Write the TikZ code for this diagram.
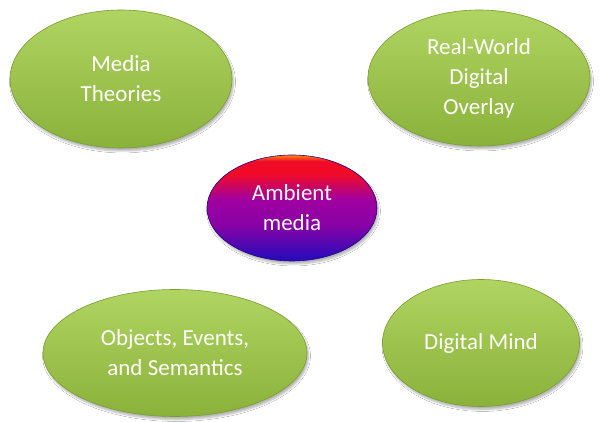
\documentclass[tikz,border=0pt]{standalone}
\usepackage{fontspec}
\setmainfont{Carlito}
\usetikzlibrary{shapes.geometric,shadows.blur}

\definecolor{leafTop}{RGB}{176,212,98}
\definecolor{leafBot}{RGB}{138,178,58}
\definecolor{leafRim}{RGB}{120,158,48}
\definecolor{hubOrange}{RGB}{255,130,20}
\definecolor{hubRed}{RGB}{240,10,40}
\definecolor{hubPurple}{RGB}{160,0,160}
\definecolor{hubBlue}{RGB}{45,10,185}

% red to blue body for the middle ellipse
\pgfdeclareverticalshading{hubshade}{100bp}{color(0bp)=(hubBlue); color(27bp)=(hubBlue);
  color(42bp)=(hubPurple!80!hubBlue); color(54bp)=(hubPurple); color(66bp)=(hubRed);
  color(72bp)=(hubRed); color(75bp)=(hubOrange); color(100bp)=(hubOrange)}

\begin{document}
\begin{tikzpicture}[x=1pt, y=1pt,
  every node/.style={font=\fontsize{23}{30}\selectfont, text=white, align=center},
  topic/.style={ellipse, inner sep=0pt, draw=leafRim, line width=0.6pt,
    top color=leafTop, bottom color=leafBot,
    blur shadow={shadow xshift=1.5pt, shadow yshift=-3pt, shadow blur steps=6, shadow opacity=30}},
  hub/.style={ellipse, inner sep=0pt, draw=hubBlue!70!black, line width=0.6pt,
    shading=hubshade, text=white!92!pink,
    blur shadow={shadow xshift=1.5pt, shadow yshift=-3pt, shadow blur steps=6, shadow opacity=30}}]
\useasboundingbox[fill=white] (0,0) rectangle (608,422);
\node[topic, minimum width=222pt, minimum height=138pt] (theories) at (121,343) {Media\\Theories};
\node[topic, minimum width=222pt, minimum height=136pt] (overlay) at (479,344) {Real-World\\Digital\\Overlay};
\node[hub, minimum width=170pt, minimum height=106pt] (ambient) at (292,214) {Ambient\\media};
\node[topic, minimum width=264pt, minimum height=127pt] (objects) at (175,69) {Objects, Events,\\and Semantics};
\node[topic, minimum width=197pt, minimum height=127pt] (mind) at (481,79) {Digital Mind};
\end{tikzpicture}
\end{document}
